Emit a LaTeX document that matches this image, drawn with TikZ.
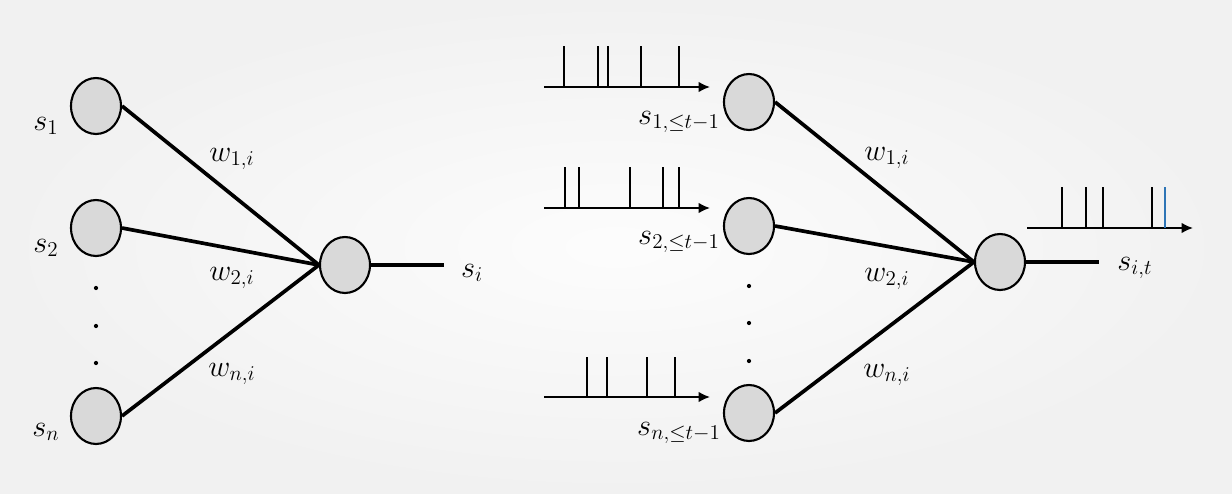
\documentclass[tikz,border=0pt]{standalone}
\usepackage{tikz}
\usetikzlibrary{arrows.meta}
\usetikzlibrary{shapes.geometric}
\definecolor{nodegray}{RGB}{217,217,217}
\definecolor{spikeblue}{RGB}{46,117,182}

\begin{document}
\begin{tikzpicture}[x=0.02cm,y=-0.02cm,
  neuron/.style={ellipse,draw=black,line width=1.2pt,fill=nodegray,minimum width=1cm,minimum height=1.12cm,inner sep=0pt},
  syn/.style={line width=2.1pt},
  lbl/.style={font=\LARGE,anchor=base,inner sep=0pt},
  train/.style={line width=1pt,-{Latex[length=6.5pt,width=6pt]}},
  spike/.style={line width=1.1pt}]
\shade[inner color=white!99!black,outer color=white!94.5!black] (0,0) rectangle (1232,494);

% left: static neuron
\node[neuron] (a1) at (96,106) {};
\node[neuron] (a2) at (96,228) {};
\node[neuron] (an) at (96,416) {};
\node[neuron] (ao) at (345,265) {};
\coordinate (aend) at (444,265);
\draw[syn] (a1.east) -- (ao.west);
\draw[syn] (a2.east) -- (ao.west);
\draw[syn] (an.east) -- (ao.west);
\draw[syn] (ao.east) -- (aend);
\fill (96,288) circle[radius=1.2pt];
\fill (96,326) circle[radius=1.2pt];
\fill (96,363) circle[radius=1.2pt];
\node[lbl] (la1) at (46,130) {$s_1$};
\node[lbl] (la2) at (46,252) {$s_2$};
\node[lbl] (lan) at (46,436) {$s_n$};
\node[lbl] (lw1) at (232,161) {$w_{1,i}$};
\node[lbl] (lw2) at (232,280) {$w_{2,i}$};
\node[lbl] (lwn) at (232,376) {$w_{n,i}$};
\node[lbl] (lao) at (472,277) {$s_i$};

% right: spiking neuron
\node[neuron] (b1) at (749,102) {};
\node[neuron] (b2) at (749,226) {};
\node[neuron] (bn) at (749,413) {};
\node[neuron] (bo) at (1000,262) {};
\coordinate (bend) at (1099,262);
\draw[syn] (b1.east) -- (bo.west);
\draw[syn] (b2.east) -- (bo.west);
\draw[syn] (bn.east) -- (bo.west);
\draw[syn] (bo.east) -- (bend);
\fill (749,286) circle[radius=1.2pt];
\fill (749,323) circle[radius=1.2pt];
\fill (749,361) circle[radius=1.2pt];
\node[lbl] (lw1) at (887,160) {$w_{1,i}$};
\node[lbl] (lw2) at (887,281) {$w_{2,i}$};
\node[lbl] (lwn) at (887,377) {$w_{n,i}$};

% input spike trains
\draw[train] (544,87) -- (710,87);
\draw[spike] (564,87) -- (564,46) (598,87) -- (598,46) (608,87) -- (608,46) (641,87) -- (641,46) (679,87) -- (679,46);
\node[lbl] (lb1) at (679,124) {$s_{1,\leq t-1}$};
\draw[train] (544,208) -- (710,208);
\draw[spike] (565,208) -- (565,167) (579,208) -- (579,167) (630,208) -- (630,167) (663,208) -- (663,167) (679,208) -- (679,167);
\node[lbl] (lb2) at (679,244) {$s_{2,\leq t-1}$};
\draw[train] (544,397) -- (710,397);
\draw[spike] (587,397) -- (587,357) (607,397) -- (607,357) (647,397) -- (647,357) (675,397) -- (675,357);
\node[lbl] (lbn) at (679,435) {$s_{n,\leq t-1}$};

% output spike train
\draw[train] (1027,228) -- (1193,228);
\draw[spike] (1062,228) -- (1062,187) (1086,228) -- (1086,187) (1103,228) -- (1103,187) (1152,228) -- (1152,187);
\draw[spike,spikeblue] (1165,228) -- (1165,187);
\node[lbl] (lbo) at (1135,270) {$s_{i,t}$};

\end{tikzpicture}
\end{document}
